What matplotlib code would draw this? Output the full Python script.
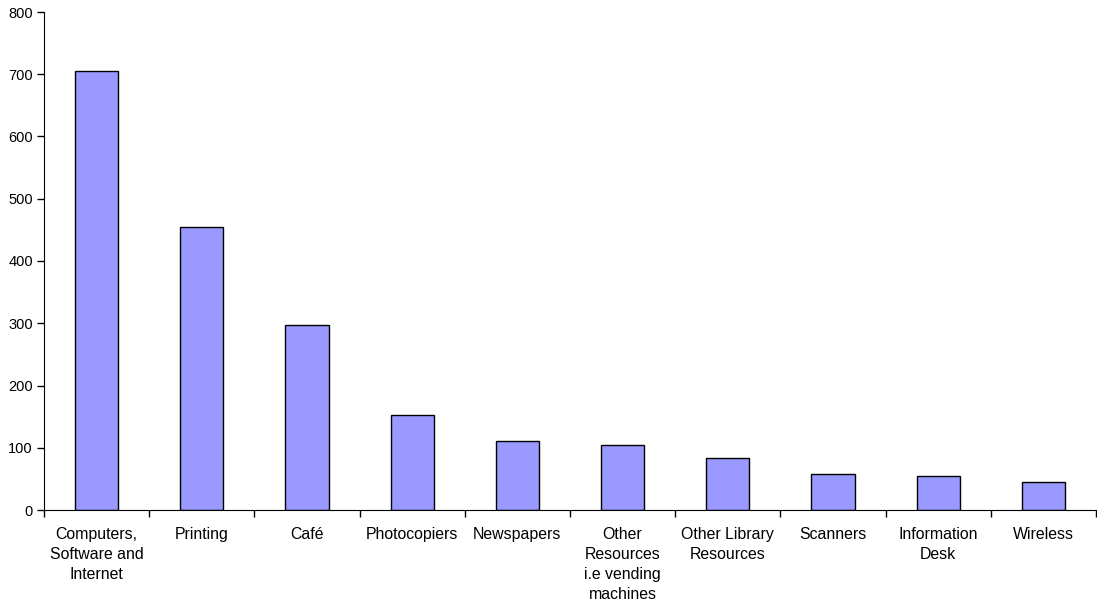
import matplotlib
matplotlib.use('Agg')
import matplotlib.pyplot as plt
import numpy as np

# Recursos mais usados
categorias = ["Computers,\nSoftware and\nInternet", "Printing", "Café", "Photocopiers",
              "Newspapers", "Other\nResources\ni.e vending\nmachines",
              "Other Library\nResources", "Scanners", "Information\nDesk", "Wireless"]
valores = [705, 455, 297, 153, 111, 104, 83, 58, 55, 45]

plt.rcParams['font.family'] = ['Liberation Sans', 'DejaVu Sans']

fig = plt.figure(figsize=(10.97, 6.04), dpi=100)
ax = fig.add_axes([44 / 1097, 94 / 604, 1052 / 1097, 498 / 604])

x = np.arange(len(categorias))
ax.bar(x, valores, width=0.41, color="#9999FF", edgecolor="black", linewidth=1)

ax.set_xlim(-0.5, len(categorias) - 0.5)
ax.set_ylim(0, 800)
ax.set_yticks(range(0, 801, 100))

# rótulos no centro, marcas entre as categorias
ax.set_xticks(x)
ax.set_xticklabels(categorias, fontsize=11.4, linespacing=1.42, va="top")
ax.tick_params(axis="x", which="major", length=0, pad=12.5)
ax.set_xticks(np.arange(-0.5, len(categorias), 1), minor=True)
ax.tick_params(axis="x", which="minor", length=5, width=1, direction="out")
ax.tick_params(axis="y", length=5, width=1, labelsize=10.5, pad=3)

for lado in ["top", "right"]:
    ax.spines[lado].set_visible(False)

plt.savefig("out.png", dpi=100)
